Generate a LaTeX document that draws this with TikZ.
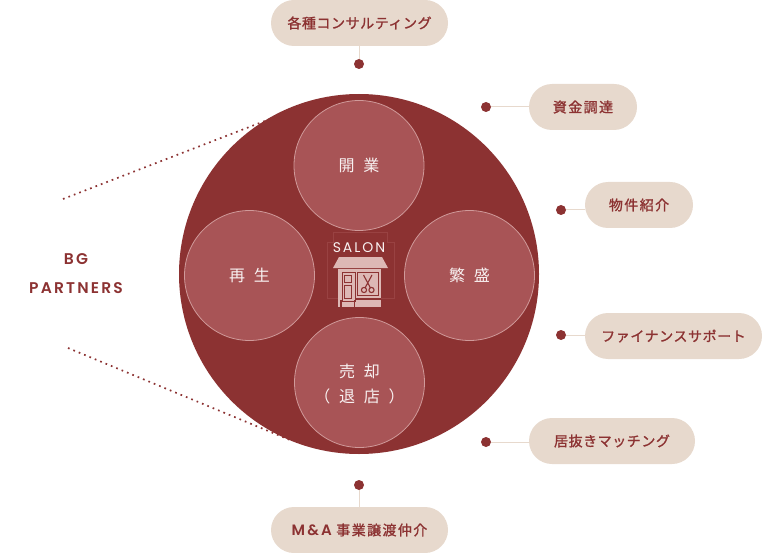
\documentclass[tikz,border=0pt]{standalone}
\usepackage{fontspec}
\setmainfont{Poppins}
\newfontfamily\jpbubble[LetterSpace=4,FakeBold=1.2]{Noto Sans CJK JP}
\newfontfamily\jpkanji[LetterSpace=10,FakeBold=1.2]{Noto Sans CJK JP}
\newfontfamily\jpcircle[LetterSpace=55]{Noto Sans CJK JP}
\newfontfamily\latinwide[LetterSpace=14]{Poppins SemiBold}
\newfontfamily\latinsalon[LetterSpace=14]{Poppins}
\usetikzlibrary{shapes.misc}
\definecolor{wine}{HTML}{8C3232}
\definecolor{sand}{HTML}{E7D9CD}
\definecolor{rose}{HTML}{A85456}
\definecolor{roseline}{HTML}{D09A9A}
\definecolor{shop}{HTML}{DDB8B5}
\definecolor{shopfaint}{HTML}{994242}
\tikzset{
  bubble/.style={rounded rectangle, fill=sand, text=wine, inner sep=0pt, minimum height=46pt, font=\fontsize{14}{16}\jpbubble},
  kanji/.style={bubble, font=\fontsize{14}{16}\jpkanji},
  dot/.style={circle, fill=wine, inner sep=0pt, minimum size=10pt},
  stage/.style={circle, fill=rose, draw=roseline, line width=0.8pt, inner sep=0pt, minimum size=130pt, text=white!92!rose, align=center, font=\fontsize{16}{25}\jpcircle},
  link/.style={draw=sand, line width=1pt},
  reach/.style={draw=wine, line width=1.7pt, dash pattern=on 1.7pt off 4.1pt}
}
\begin{document}
\begin{tikzpicture}[x=1pt, y=-1pt]
    \useasboundingbox (0,0) rectangle (762,553);

    \node[circle, fill=wine, inner sep=0pt, minimum size=360pt] (hub) at (359,274) {};

    \coordinate (t1) at (63,199);
    \coordinate (t2) at (270,119);
    \coordinate (b1) at (68,348);
    \coordinate (b2) at (290,440);
    \draw[reach] (t1) -- (t2);
    \draw[reach] (b1) -- (b2);

    \node[stage] (open) at (359,165.5) {開業};
    \node[stage] (revive) at (249.5,275.5) {再生};
    \node[stage] (thrive) at (469.5,275.5) {繁盛};
    \node[stage] (sell) at (359.5,382.5) {};
    \node[text=white!92!rose, align=center, font=\fontsize{16}{25}\jpcircle] (selltext) at (359.5,384) {売却\\（退店）};

    \node[text=wine, align=center, font=\fontsize{15.5}{29}\latinwide\selectfont] (partners) at (76,273.5) {BG\\PARTNERS};

    \node[bubble, minimum width=177pt] (consult) at (359.5,23) {各種コンサルティング};
    \node[kanji, minimum width=108pt] (fund) at (583,107) {資金調達};
    \node[kanji, minimum width=108pt] (estate) at (639,205) {物件紹介};
    \node[bubble, minimum width=177pt] (finance) at (673.5,336) {ファイナンスサポート};
    \node[bubble, minimum width=166pt] (fitout) at (612,441) {居抜きマッチング\hspace{8pt}};
    \node[kanji, minimum width=177pt] (mna) at (359.5,530) {{\fontsize{15}{16}\latinwide\selectfont M\&A} 事業譲渡仲介};

    \node[dot] (d1) at (359,64) {};
    \node[dot] (d2) at (486,107) {};
    \node[dot] (d3) at (561,210) {};
    \node[dot] (d4) at (561,335) {};
    \node[dot] (d5) at (486,442) {};
    \node[dot] (d6) at (359,485) {};

    \draw[link] (consult.south -| d1) -- (d1);
    \draw[link] (d2) -- (d2 -| fund.west);
    \draw[link] (d3) -- (d3 -| estate.west);
    \draw[link] (d4) -- (d4 -| finance.west);
    \draw[link] (d5) -- (d5 -| fitout.west);
    \draw[link] (d6) -- (d6 |- mna.north);

    % faint frame behind the shop
    \draw[shopfaint, line width=0.7pt] (333,232) -- (387,232) -- (387,242) -- (394,242) -- (394,298) -- (327,298) -- (327,242) -- (333,242) -- cycle;

    \node[text=white!92!rose, font=\fontsize{14}{16}\latinsalon\selectfont] (salon) at (359,248) {SALON};

    % shop
    \fill[shop] (339,257) -- (382,257) -- (388,268) -- (333,268) -- cycle;
    \fill[shop] (338,269) rectangle (381,307);
    \draw[wine, line width=1pt] (342.5,272) rectangle (355,301);
    \draw[wine, line width=1pt] (344,275) rectangle (351.5,282.5);
    \draw[wine, line width=1pt] (344,285.5) rectangle (351.5,298);
    \draw[wine, line width=1pt] (357.5,272) rectangle (378,295);
    \fill[wine] (355,297.5) rectangle (381,300);
    \fill[wine] (340,300) rectangle (341.5,307);
    \fill[wine] (353.5,300) rectangle (355,307);
    \draw[wine, line width=1.1pt] (363.5,275) -- (370.5,288) (372,275) -- (365,288);
    \draw[wine, line width=1.1pt] (364,290) circle (2.6pt) (371.5,290) circle (2.6pt);
\end{tikzpicture}
\end{document}
